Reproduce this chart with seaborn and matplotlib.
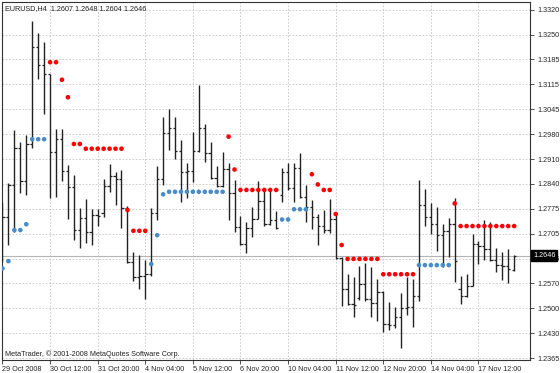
import numpy as np
import pandas as pd
import seaborn as sns
import matplotlib
matplotlib.use("Agg")
import matplotlib.pyplot as plt

# EURUSD H4 bars
opens = [1.2675, 1.2752, 1.2839, 1.2941, 1.2851, 1.2951, 1.3218, 1.3168, 1.3143, 1.2929,
         1.2965, 1.2878, 1.2833, 1.2716, 1.2750, 1.2711, 1.2757, 1.2762, 1.2837, 1.2864,
         1.2855, 1.2777, 1.2629, 1.2588, 1.2590, 1.2595, 1.2763, 1.2856, 1.2983, 1.2995,
         1.2933, 1.2876, 1.2878, 1.2932, 1.2995, 1.2928, 1.2859, 1.2837, 1.2883, 1.2817,
         1.2725, 1.2678, 1.2721, 1.2746, 1.2796, 1.2732, 1.2745, 1.2812, 1.2874, 1.2832,
         1.2885, 1.2807, 1.2780, 1.2752, 1.2727, 1.2716, 1.2746, 1.2639, 1.2554, 1.2513,
         1.2530, 1.2567, 1.2526, 1.2517, 1.2547, 1.2460, 1.2456, 1.2479, 1.2503, 1.2505,
         1.2536, 1.2786, 1.2752, 1.2732, 1.2702, 1.2714, 1.2732, 1.2555, 1.2536, 1.2563,
         1.2677, 1.2672, 1.2663, 1.2634, 1.2620, 1.2618, 1.2607]
highs = [1.2794, 1.2844, 1.2990, 1.2956, 1.2976, 1.3288, 1.3255, 1.3232, 1.3143, 1.2992,
         1.2992, 1.2894, 1.2867, 1.2777, 1.2801, 1.2773, 1.2775, 1.2855, 1.2896, 1.2876,
         1.2880, 1.2783, 1.2655, 1.2649, 1.2634, 1.2777, 1.2892, 1.3026, 1.3047, 1.3026,
         1.2963, 1.2900, 1.2984, 1.3113, 1.3008, 1.2956, 1.2891, 1.2930, 1.2899, 1.2853,
         1.2754, 1.2737, 1.2780, 1.2850, 1.2830, 1.2832, 1.2768, 1.2887, 1.2899, 1.2900,
         1.2928, 1.2839, 1.2798, 1.2759, 1.2771, 1.2801, 1.2759, 1.2643, 1.2597, 1.2588,
         1.2618, 1.2625, 1.2614, 1.2581, 1.2549, 1.2520, 1.2506, 1.2543, 1.2588, 1.2581,
         1.2853, 1.2828, 1.2789, 1.2780, 1.2734, 1.2750, 1.2803, 1.2591, 1.2597, 1.2704,
         1.2686, 1.2743, 1.2737, 1.2668, 1.2657, 1.2663, 1.2648]
lows = [1.2628, 1.2675, 1.2711, 1.2817, 1.2812, 1.2941, 1.3129, 1.3033, 1.2805, 1.2807,
        1.2851, 1.2746, 1.2689, 1.2668, 1.2680, 1.2675, 1.2728, 1.2752, 1.2821, 1.2786,
        1.2722, 1.2625, 1.2577, 1.2554, 1.2526, 1.2590, 1.2743, 1.2839, 1.2935, 1.2911,
        1.2794, 1.2805, 1.2847, 1.2930, 1.2903, 1.2856, 1.2835, 1.2835, 1.2745, 1.2710,
        1.2675, 1.2652, 1.2698, 1.2746, 1.2728, 1.2730, 1.2718, 1.2794, 1.2826, 1.2792,
        1.2805, 1.2739, 1.2718, 1.2675, 1.2707, 1.2707, 1.2636, 1.2509, 1.2511, 1.2477,
        1.2524, 1.2522, 1.2479, 1.2467, 1.2437, 1.2442, 1.2448, 1.2392, 1.2483, 1.2450,
        1.2522, 1.2728, 1.2705, 1.2659, 1.2616, 1.2641, 1.2573, 1.2513, 1.2533, 1.2563,
        1.2622, 1.2634, 1.2631, 1.2602, 1.2579, 1.2570, 1.2604]
closes = [1.2752, 1.2839, 1.2941, 1.2851, 1.2951, 1.3218, 1.3168, 1.3143, 1.2929, 1.2965,
          1.2878, 1.2833, 1.2716, 1.2750, 1.2711, 1.2757, 1.2755, 1.2837, 1.2864, 1.2855,
          1.2777, 1.2629, 1.2588, 1.2590, 1.2595, 1.2763, 1.2856, 1.2983, 1.2995, 1.2933,
          1.2876, 1.2878, 1.2932, 1.2995, 1.2928, 1.2859, 1.2837, 1.2883, 1.2817, 1.2725,
          1.2678, 1.2721, 1.2746, 1.2796, 1.2732, 1.2745, 1.2721, 1.2874, 1.2832, 1.2885,
          1.2807, 1.2780, 1.2752, 1.2727, 1.2716, 1.2746, 1.2639, 1.2554, 1.2513, 1.2511,
          1.2567, 1.2526, 1.2517, 1.2547, 1.2460, 1.2456, 1.2479, 1.2503, 1.2505, 1.2536,
          1.2786, 1.2752, 1.2732, 1.2702, 1.2714, 1.2732, 1.2631, 1.2536, 1.2563, 1.2677,
          1.2672, 1.2663, 1.2634, 1.2620, 1.2618, 1.2608, 1.2646]
# Parabolic SAR dots
sar = [1.2611, 1.2631, 1.2716, 1.2716, 1.2732, 1.2965, 1.2965, 1.2965, 1.3176, 1.3176,
       1.3128, 1.3080, 1.2952, 1.2952, 1.2939, 1.2939, 1.2939, 1.2939, 1.2939, 1.2939,
       1.2939, 1.2771, 1.2714, 1.2714, 1.2714, 1.2623, 1.2702, 1.2814, 1.2821, 1.2821,
       1.2821, 1.2821, 1.2821, 1.2821, 1.2821, 1.2821, 1.2821, 1.2821, 1.2972, 1.2882,
       1.2826, 1.2826, 1.2826, 1.2826, 1.2826, 1.2826, 1.2826, 1.2745, 1.2745, 1.2773,
       1.2773, 1.2773, 1.2869, 1.2841, 1.2826, 1.2826, 1.2760, 1.2675, 1.2637, 1.2637,
       1.2637, 1.2637, 1.2637, 1.2637, 1.2595, 1.2595, 1.2595, 1.2595, 1.2595, 1.2595,
       1.2620, 1.2620, 1.2620, 1.2620, 1.2620, 1.2620, 1.2789, 1.2727, 1.2727, 1.2727,
       1.2727, 1.2727, 1.2727, 1.2727, 1.2727, 1.2727, 1.2727]

date_labels = ["29 Oct 2008", "30 Oct 12:00", "31 Oct 20:00", "4 Nov 04:00", "5 Nov 12:00",
               "6 Nov 20:00", "10 Nov 04:00", "11 Nov 12:00", "12 Nov 20:00", "14 Nov 04:00",
               "17 Nov 12:00"]
price_labels = ["1.3320", "1.3250", "1.3185", "1.3115", "1.3045", "1.2980", "1.2910", "1.2840",
                "1.2775", "1.2705", "1.2635", "1.2570", "1.2500", "1.2430", "1.2365"]
last_price = 1.2646

df = pd.DataFrame({"open": opens, "high": highs, "low": lows, "close": closes, "sar": sar})
df["bar"] = np.arange(len(df))
df["trend"] = np.where(df["sar"] < df["close"], "up", "down")

sns.set_style("white")
plt.rcParams["font.family"] = ["Liberation Sans", "DejaVu Sans"]

fig = plt.figure(figsize=(5.6, 3.73), dpi=100)
ax = fig.add_axes([2 / 560, 13 / 373, 528 / 560, 358 / 373])

grid_kw = dict(color="#c4c4c4", lw=0.6, ls=(0, (2, 2)), zorder=0)
ytick_pos = np.linspace(1.3320, 1.2365, len(price_labels))
xtick_pos = np.arange(len(date_labels)) * 8
for y in ytick_pos:
    ax.axhline(y, **grid_kw)
for x in xtick_pos:
    ax.axvline(x, **grid_kw)
ax.axhline(last_price, color="#b4b4b4", lw=0.8, zorder=1)

# OHLC bars
bar_col = "#222222"
ax.vlines(df["bar"], df["low"], df["high"], color=bar_col, lw=1.0, zorder=3)
ax.hlines(df["open"], df["bar"] - 0.38, df["bar"], color=bar_col, lw=0.9, zorder=3)
ax.hlines(df["close"], df["bar"], df["bar"] + 0.38, color=bar_col, lw=0.9, zorder=3)

sns.scatterplot(data=df, x="bar", y="sar", hue="trend",
                palette={"up": "#4a8cc8", "down": "#ff0000"},
                s=11, linewidth=0, legend=False, ax=ax, zorder=4)

ax.set_xlim(-0.08, 88.66)
ax.set_ylim(1.2360, 1.3341)
ax.set_xlabel("")
ax.set_ylabel("")

ax.set_xticks(xtick_pos)
ax.set_xticklabels(date_labels)
for lbl in ax.get_xticklabels():
    lbl.set_ha("left")
ax.yaxis.tick_right()
ax.set_yticks(ytick_pos)
ax.set_yticklabels(price_labels)
ax.tick_params(axis="x", direction="out", length=3, width=0.6, labelsize=5.2, pad=1.5,
               bottom=True, color="#333333")
ax.tick_params(axis="y", direction="out", length=3, width=0.6, labelsize=5.2, pad=2,
               right=True, left=False, color="#333333")
for s in ax.spines.values():
    s.set_color("#333333")
    s.set_linewidth(0.8)

ax.text(1.006, last_price, "1.2646", transform=ax.get_yaxis_transform(),
        fontsize=5.2, color="white", va="center", ha="left", zorder=6, clip_on=False,
        bbox=dict(boxstyle="square,pad=0.25", fc="black", ec="black"))

ax.text(0.006, 0.992, "EURUSD,H4  1.2607 1.2648 1.2604 1.2646", transform=ax.transAxes,
        fontsize=5.2, va="top", ha="left", color="#222222")
ax.text(0.006, 0.006, "MetaTrader, \u00a9 2001-2008 MetaQuotes Software Corp.",
        transform=ax.transAxes, fontsize=5.2, va="bottom", ha="left", color="#222222")

fig.savefig("out.png", dpi=100)
